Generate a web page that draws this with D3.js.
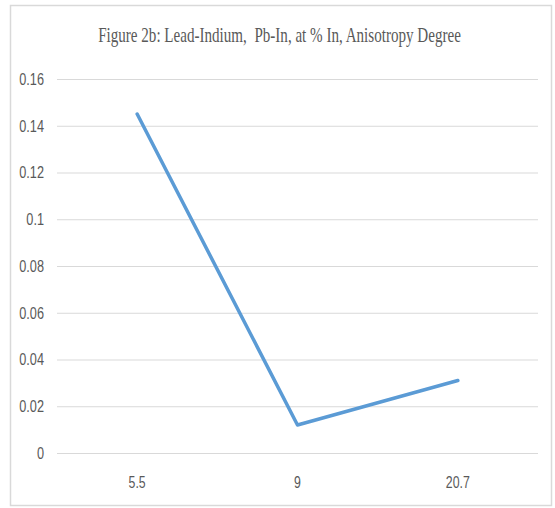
<!DOCTYPE html>
<html>
<head>
<meta charset="utf-8">
<script src="https://cdn.jsdelivr.net/npm/d3@7"></script>
<style>
    body { margin: 0; background: #fff; }
    text { fill: #595959; }
    .axis path, .axis line { display: none; }
    .grid line { stroke: #d9d9d9; stroke-width: 1; }
</style>
</head>
<body>
<div id="chart"></div>
<script>
// Data
const categories = ["5.5", "9", "20.7"];
const anisotropy = [0.145, 0.012, 0.031];
const yTicks = [0, 0.02, 0.04, 0.06, 0.08, 0.1, 0.12, 0.14, 0.16];
const title = "Figure 2b: Lead-Indium,  Pb-In, at % In, Anisotropy Degree";

const width = 555, height = 508;
const margin = { top: 79, right: 17, bottom: 55, left: 57 };
const squeeze = 0.77;   // the source labels are horizontally compressed
const titleWidth = 363;  // measured width of the title in the source

const svg = d3.select("#chart").append("svg")
    .attr("width", width)
    .attr("height", height);

// outer frame
svg.append("rect")
    .attr("x", 10.5).attr("y", 5.5)
    .attr("width", 541).attr("height", 500)
    .attr("fill", "#fff")
    .attr("stroke", "#d9d9d9")
    .attr("stroke-width", 1.5);

const x = d3.scaleBand()
    .domain(categories)
    .range([margin.left, width - margin.right]);

const y = d3.scaleLinear()
    .domain([0, 0.16])
    .range([height - margin.bottom, margin.top]);

// gridlines
svg.append("g").attr("class", "grid")
    .selectAll("line")
    .data(yTicks)
    .join("line")
    .attr("x1", margin.left).attr("x2", width - margin.right)
    .attr("y1", d => y(d) + 0.5).attr("y2", d => y(d) + 0.5);

// y axis labels
svg.append("g").attr("class", "y axis")
    .attr("transform", `translate(${margin.left}, 0)`)
    .call(d3.axisLeft(y).tickValues(yTicks).tickSize(0).tickFormat(d3.format("")))
    .selectAll("text")
    .style("font-family", "'Liberation Sans', Arial, sans-serif")
    .style("font-size", "16.5px")
    .attr("x", -13 / squeeze)
    .attr("transform", `scale(${squeeze},1)`);

// x axis labels
svg.append("g").attr("class", "x axis")
    .attr("transform", `translate(0, ${height - margin.bottom})`)
    .call(d3.axisBottom(x).tickSize(0).tickPadding(24))
    .selectAll("text")
    .style("font-family", "'Liberation Sans', Arial, sans-serif")
    .style("font-size", "16px")
    .attr("transform", `scale(${squeeze},1)`);

// the line
const line = d3.line()
    .x((d, i) => x(categories[i]) + x.bandwidth() / 2)
    .y(d => y(d));

svg.append("path")
    .datum(anisotropy)
    .attr("fill", "none")
    .attr("stroke", "#5b9bd5")
    .attr("stroke-width", 3.5)
    .attr("stroke-linejoin", "round")
    .attr("stroke-linecap", "round")
    .attr("d", line);

// title, squeezed to the source width (keep the double space)
const titleText = svg.append("text")
    .attr("text-anchor", "middle")
    .style("white-space", "pre")
    .style("font-family", "'Liberation Serif', 'Times New Roman', serif")
    .style("font-size", "20px")
    .text(title);
const sx = titleWidth / titleText.node().getComputedTextLength();
titleText.attr("transform", `translate(279.5, 42) scale(${sx},1)`);
</script>
</body>
</html>
